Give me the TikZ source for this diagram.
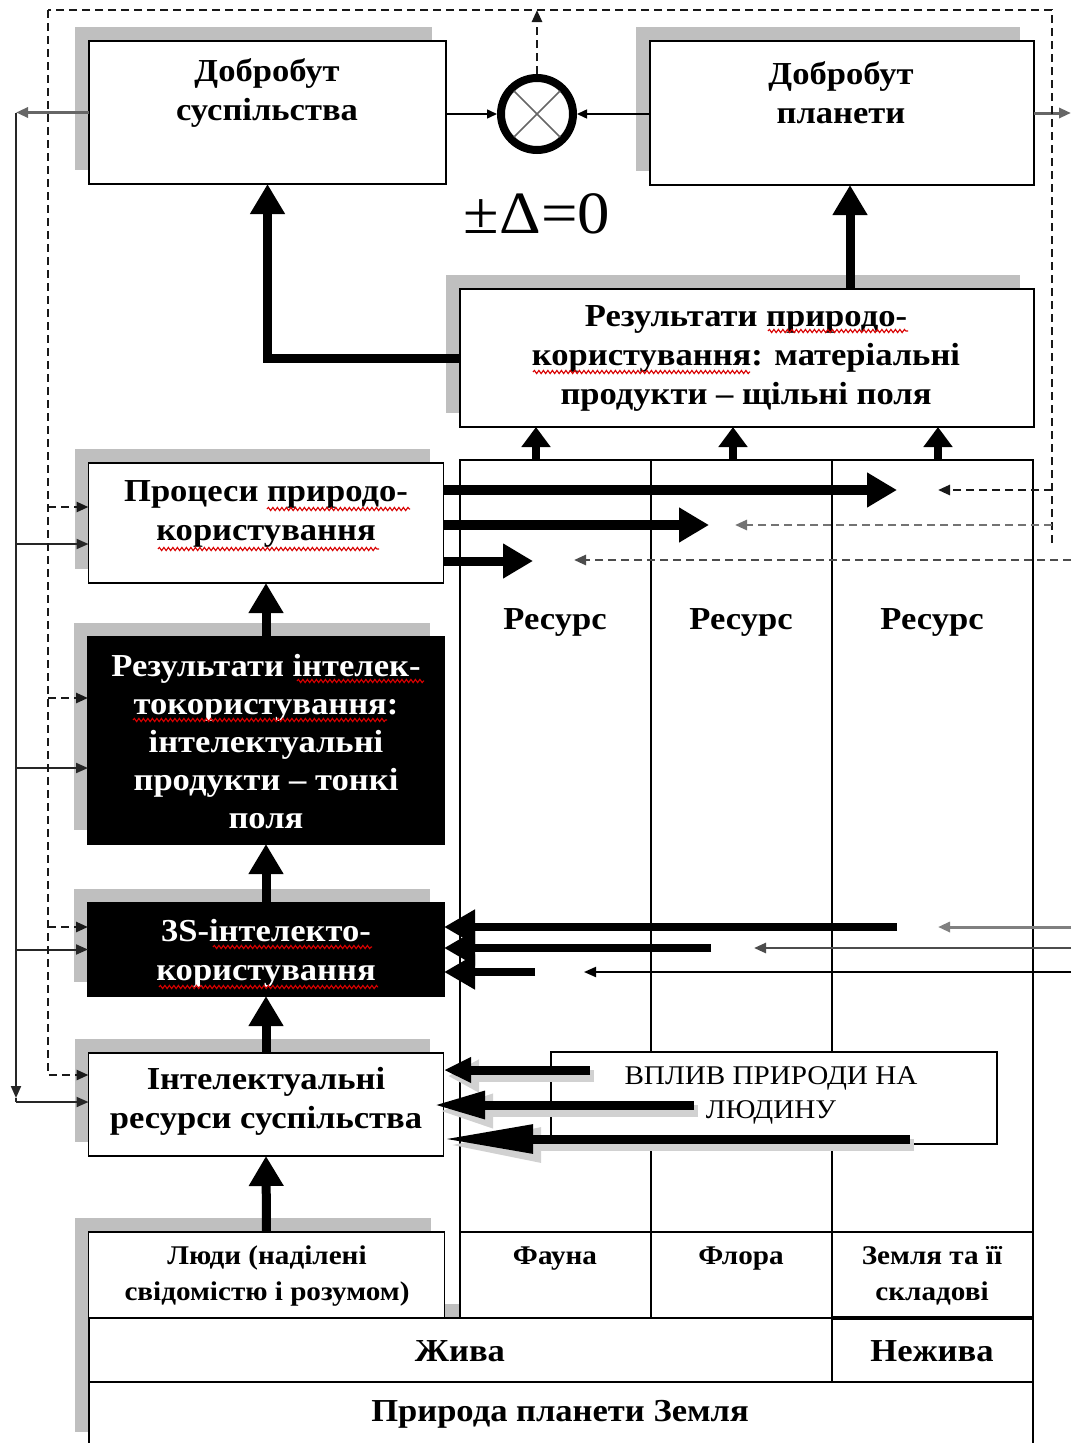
\documentclass[tikz,border=0pt]{standalone}
\usepackage{fontspec}
\setmainfont{Liberation Serif}[FakeStretch=1.08]
\usetikzlibrary{arrows.meta,calc,shadows,decorations.pathmorphing}
\begin{document}
\begin{tikzpicture}[x=1pt,y=-1pt,
  box/.style={draw, line width=1.6pt, fill=white, inner sep=0pt, outer sep=0pt},
  shbox/.style={box, drop shadow={shadow xshift=-14pt,shadow yshift=14pt,opacity=1,fill=black!25}},
  blk/.style={shbox, fill=black},
  txt/.style={font=\bfseries\fontsize{32}{39}\selectfont, align=center, inner sep=0pt},
  wtxt/.style={txt, text=white},
  stxt/.style={font=\bfseries\fontsize{27}{36}\selectfont, align=center, inner sep=0pt},
  fat/.style={line width=9pt, -{Triangle[length=30pt,width=33pt]}},
  thinarr/.style={line width=2pt, black!85, -{Triangle[length=12pt,width=10pt]}},
  dsh/.style={line width=2.6pt, black!90, dash pattern=on 8pt off 5pt},
  dsharr/.style={dsh, -{Triangle[length=12pt,width=10pt]}},
  squig/.style={red!85!black, line width=1.1pt, decorate, decoration={snake, amplitude=1.6pt, segment length=4.5pt}},
]
\useasboundingbox (0,0) rectangle (1073,1443);

% ---------- bottom block, table ----------
\node[shbox, minimum width=944pt, minimum height=128pt] (nat) at (561,1382) {};
\node[box, minimum width=573pt, minimum height=858pt] (tab) at (746.5,889) {};
\coordinate (cA) at (651,0);
\coordinate (cB) at (832,0);
\coordinate (rowF) at (0,1232);
\coordinate (rowZ) at (0,1382);
\draw[line width=1.6pt] (tab.north -| cA) -- (tab.south -| cA);
\draw[line width=1.6pt] (tab.north -| cB) -- (tab.south -| cB);
\draw[line width=1.6pt] (tab.west |- rowF) -- (tab.east |- rowF);
\draw[line width=1.6pt] (nat.west |- rowZ) -- (nat.east |- rowZ);
\draw[line width=1.6pt] (cB |- nat.north) -- (cB |- rowZ);
\draw[line width=3.5pt] (cB |- nat.north) -- (tab.south east);
\node[shbox, minimum width=356pt, minimum height=86pt] (people) at (266.5,1275) {};

% ---------- boxes ----------
\node[shbox, minimum width=357pt, minimum height=143pt] (dobS) at (267.5,112.5) {};
\node[shbox, minimum width=384pt, minimum height=144pt] (dobP) at (842,113) {};
\node[shbox, minimum width=574pt, minimum height=138pt] (resP) at (747,358) {};
\node[shbox, minimum width=355pt, minimum height=120pt] (proc) at (266,523) {};
\node[blk, minimum width=356pt, minimum height=207pt] (resI) at (266,740.5) {};
\node[blk, minimum width=356pt, minimum height=93pt] (s3) at (266,949.5) {};
\node[shbox, minimum width=355pt, minimum height=103pt] (intR) at (266,1104.5) {};
\node[box, minimum width=446pt, minimum height=92pt] (vp) at (774,1098) {};
\node[circle, draw, line width=8pt, minimum size=72pt, inner sep=0pt] (circ) at (537,114) {};
\draw[black!60, line width=1.5pt] ($(circ.center)+(-23,-23)$) -- ($(circ.center)+(23,23)$);
\draw[black!60, line width=1.5pt] ($(circ.center)+(-23,23)$) -- ($(circ.center)+(23,-23)$);

% ---------- texts ----------
\node[txt] (tS) at (267,93) {Добробут\\суспільства};
\node[txt] (tP) at (841,93) {Добробут\\планети};
\node[font=\fontsize{60}{62}\selectfont, inner sep=0pt] (delta) at (537,214) {±Δ=0};
\node[txt] (tRP) at (746,358) {Результати природо-\\користування: матеріальні\\продукти – щільні поля};
\node[txt] (tPr) at (266,514) {Процеси природо-\\користування};
\node[wtxt, font=\bfseries\fontsize{32}{38}\selectfont] (tRI) at (266,742) {Результати інтелек-\\токористування:\\інтелектуальні\\продукти – тонкі\\поля};
\node[wtxt] (t3S) at (266,953) {3S-інтелекто-\\користування};
\node[txt] (tIR) at (266,1101) {Інтелектуальні\\ресурси суспільства};
\node[txt] (r1) at (555,622) {Ресурс};
\node[txt] (r2) at (741,622) {Ресурс};
\node[txt] (r3) at (932,622) {Ресурс};
\node[stxt] (tL) at (267,1276) {Люди (наділені\\свідомістю і розумом)};
\node[stxt] (tFa) at (555,1259) {Фауна};
\node[stxt] (tFl) at (741,1259) {Флора};
\node[stxt] (tZe) at (932,1276) {Земля та її\\складові};
\node[txt] (tZh) at (460,1351) {Жива};
\node[txt] (tNe) at (932,1351) {Нежива};
\node[txt] (tPZ) at (560,1414) {Природа планети Земля};
\node[font=\fontsize{27}{34}\selectfont, align=center, inner sep=0pt] (tvp) at (771,1095) {ВПЛИВ ПРИРОДИ НА\\ЛЮДИНУ};

% spell-check squiggles
\draw[squig] (267,509) -- (410,509);
\draw[squig] (158,549) -- (379,549);
\draw[squig] (768,331) -- (908,331);
\draw[squig] (533,372) -- (750,372);
\draw[squig] (297,681) -- (424,681);
\draw[squig] (133,720) -- (387,720);
\draw[squig] (213,947) -- (372,947);
\draw[squig] (159,987) -- (378,987);

% ---------- circle connections ----------
\draw[line width=1.5pt, -{Triangle[length=10pt,width=9pt]}] (dobS.east |- circ.west) -- (circ.west);
\draw[line width=1.5pt, -{Triangle[length=10pt,width=9pt]}] (dobP.west |- circ.east) -- (circ.east);
\coordinate (TL) at (48,10);
\coordinate (TR) at (1052,10);
\coordinate (BRd) at (1052,543);
\coordinate (Redge) at (1071,0);
\draw[dsharr] (circ.north) -- (circ.north |- TL);
\draw[thinarr, black!60, line width=3pt] (dobP.east) -- (Redge |- dobP.east);

% ---------- thick arrows ----------
\draw[fat, line join=miter] (resP.west) -| (dobS.south);
\coordinate (kP) at (850,0);
\draw[fat] (resP.north -| kP) -- (dobP.south -| kP);
\coordinate (k1) at (536,0);
\coordinate (k2) at (733,0);
\coordinate (k3) at (938,0);
\foreach \k in {k1,k2,k3}
  \draw[line width=8pt, -{Triangle[length=20pt,width=28pt]}] (tab.north -| \k) -- (resP.south -| \k);
\draw[fat] (resI.north) -- (proc.south);
\draw[fat] (s3.north) -- (resI.south);
\draw[fat] (intR.north) -- (s3.south);
\draw[fat] (people.north) -- (intR.south);

% right fat arrows from processes
\coordinate (f1) at (897,490);
\coordinate (f2) at (709,525);
\coordinate (f3) at (533,561);
\draw[fat, line width=10pt] (f1 -| proc.east) -- (f1);
\draw[fat, line width=10pt] (f2 -| proc.east) -- (f2);
\draw[fat, line width=9pt] (f3 -| proc.east) -- (f3);

% dashed returns
\coordinate (d1) at (938,490);
\coordinate (d2) at (735,525);
\coordinate (d3) at (574,560);
\draw[dsh] (BRd) -- (TR) -- (TL);
\draw[dsharr] (TR |- d1) -- (d1);
\draw[dsharr, black!55] (TR |- d2) -- (d2);
\draw[dsharr, black!70] (Redge |- d3) -- (d3);

% left fat arrows into 3S
\coordinate (g1) at (897,927);
\coordinate (g2) at (711,948);
\coordinate (g3) at (535,972);
\draw[line width=8pt, -{Triangle[length=31pt,width=33pt]}] (g1) -- (g1 -| s3.east);
\draw[line width=8pt, -{Triangle[length=31pt,width=33pt]}] (g2) -- (g2 -| s3.east);
\draw[line width=8pt, -{Triangle[length=31pt,width=33pt]}] (g3) -- (g3 -| s3.east);
\coordinate (b1) at (938,927);
\coordinate (b2) at (754,948);
\coordinate (b3) at (584,972);
\draw[thinarr, black!50, line width=3pt] (Redge |- b1) -- (b1);
\draw[thinarr, black!70, line width=2.5pt] (Redge |- b2) -- (b2);
\draw[thinarr, black, line width=2pt] (Redge |- b3) -- (b3);

% halo arrows into intellectual resources
\coordinate (h1) at (590,1070);
\coordinate (h2) at (694,1105);
\coordinate (h3) at (910,1139);
\coordinate (e1) at (444,1070);
\coordinate (e2) at (434,1105);
\coordinate (e3) at (443,1139);
\draw[line width=12pt, black!18, -{Triangle[length=31pt,width=31pt]}] ([shift={(4,6)}]h1) -- ([shift={(4,6)}]e1);
\draw[line width=9pt, -{Triangle[length=27pt,width=24pt]}] (h1) -- (e1);
\draw[line width=12pt, black!18, -{Triangle[length=55pt,width=31pt]}] ([shift={(4,6)}]h2) -- ([shift={(4,6)}]e2);
\draw[line width=9pt, -{Triangle[length=51pt,width=26pt]}] (h2) -- (e2);
\draw[line width=12pt, black!18, -{Triangle[length=94pt,width=32pt]}] ([shift={(4,6)}]h3) -- ([shift={(4,6)}]e3);
\draw[line width=9pt, -{Triangle[length=90pt,width=27pt]}] (h3) -- (e3);

% ---------- left feedback lines ----------
\coordinate (L1) at (16,112.5);
\coordinate (L2) at (16,1098);
\draw[thinarr, black!60, line width=3pt] (dobS.west) -- (L1);
\draw[thinarr] (L1) -- (L2);
\coordinate (pD) at ([yshift=16pt]proc.west);
\coordinate (pS) at ([yshift=-21pt]proc.west);
\coordinate (rD) at ([yshift=42.5pt]resI.west);
\coordinate (rS) at ([yshift=-27.5pt]resI.west);
\coordinate (sD) at ([yshift=22.5pt]s3.west);
\coordinate (sS) at (s3.west);
\coordinate (iD) at ([yshift=29.5pt]intR.west);
\coordinate (iS) at ([yshift=2.5pt]intR.west);
\draw[thinarr] (L1 |- pS) -- (pS);
\draw[thinarr] (L1 |- rS) -- (rS);
\draw[thinarr] (L1 |- sS) -- (sS);
\draw[line width=2pt, black!85] (L2) -- (L1 |- iS);
\draw[thinarr] (L1 |- iS) -- (iS);
\draw[dsharr] (TL) -- (TL |- iD) -- (iD);
\draw[dsharr] (TL |- pD) -- (pD);
\draw[dsharr] (TL |- rD) -- (rD);
\draw[dsharr] (TL |- sD) -- (sD);
\end{tikzpicture}
\end{document}
